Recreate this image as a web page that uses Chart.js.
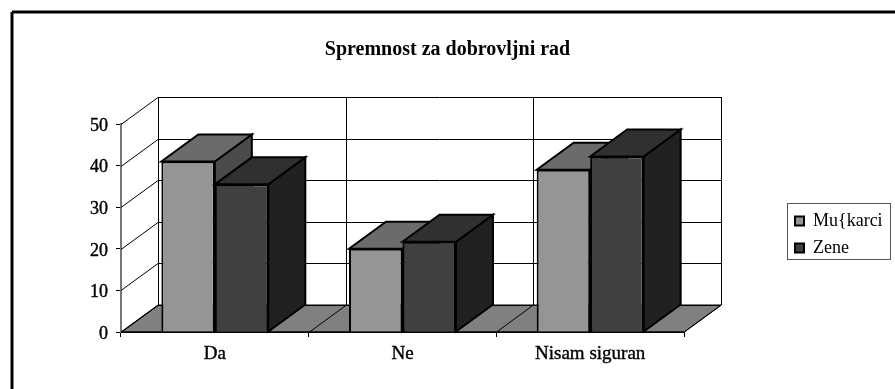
<!DOCTYPE html>
<html>
<head>
<meta charset="utf-8">
<title>Spremnost za dobrovljni rad</title>
<script src="https://cdn.jsdelivr.net/npm/chart.js@4"></script>
<style>
  html, body { margin: 0; padding: 0; background: #fff; }
  canvas { display: block; }
</style>
</head>
<body>
<canvas id="chart" width="895" height="389"></canvas>
<script>
const categories = ["Da", "Ne", "Nisam siguran"];
const muskarci = [41, 20, 39];
const zene = [35.5, 21.7, 42.2];
const seriesNames = ["Mu{karci", "Zene"];
const yMax = 50;
const yStep = 10;

// depth of the fake 3D box, in pixels
const DEPTH_X = 37;
const DEPTH_Y = 27;

function poly(ctx, pts, fill, stroke, width) {
  ctx.beginPath();
  pts.forEach((p, i) => (i ? ctx.lineTo(p[0], p[1]) : ctx.moveTo(p[0], p[1])));
  ctx.closePath();
  if (fill) {
    ctx.fillStyle = fill;
    ctx.fill();
  }
  if (stroke) {
    ctx.strokeStyle = stroke;
    ctx.lineWidth = width;
    ctx.stroke();
  }
}

function line(ctx, x1, y1, x2, y2) {
  ctx.beginPath();
  ctx.moveTo(x1, y1);
  ctx.lineTo(x2, y2);
  ctx.stroke();
}

const box3d = {
  id: "box3d",
  beforeDraw(chart) {
    // the outer frame only shows on the top and left
    const ctx = chart.ctx;
    ctx.save();
    ctx.strokeStyle = "#000";
    ctx.lineWidth = 3;
    line(ctx, 12, 389, 12, 12);
    line(ctx, 12, 12, 895, 12);
    ctx.restore();
  },
  afterLayout(chart) {
    // keep the legend away from the plot, as in the original
    const lg = chart.legend;
    lg.left = 786;
    lg.right = 786 + lg.width;
    lg.top = 234.5 - lg.height / 2;
    lg.bottom = lg.top + lg.height;
    // title is centred on the whole page, not on the plot
    chart.titleBlock.left = 0;
    chart.titleBlock.right = chart.width;
  },
  beforeDatasetsDraw(chart) {
    const { ctx, chartArea: a, scales } = chart;
    const catW = a.width / categories.length;
    ctx.save();

    // floor
    poly(ctx, [
      [a.left, a.bottom],
      [a.right, a.bottom],
      [a.right + DEPTH_X, a.bottom - DEPTH_Y],
      [a.left + DEPTH_X, a.bottom - DEPTH_Y]
    ], "#808080", "#000", 1);

    ctx.strokeStyle = "#000";
    ctx.lineWidth = 1;

    // value gridlines: side wall then back wall
    scales.y.ticks.forEach(t => {
      const y = Math.round(scales.y.getPixelForValue(t.value)) + 0.5;
      line(ctx, a.left, y, a.left + DEPTH_X, y - DEPTH_Y);
      line(ctx, a.left + DEPTH_X, y - DEPTH_Y, a.right + DEPTH_X, y - DEPTH_Y);
    });

    // category lines across the floor and up the back wall
    for (let i = 0; i <= categories.length; i++) {
      const x = Math.round(a.left + i * catW) + 0.5;
      line(ctx, x, a.bottom, x + DEPTH_X, a.bottom - DEPTH_Y);
      line(ctx, x + DEPTH_X, a.bottom - DEPTH_Y, x + DEPTH_X, a.top - DEPTH_Y);
    }

    // front edge of the floor
    line(ctx, a.left, a.bottom, a.right, a.bottom);
    ctx.restore();
  },
  // the left series has to go first so the right one covers its side face
  beforeDatasetDraw() {
    return false;
  },
  afterDatasetsDraw(chart) {
    const { ctx } = chart;
    chart.data.datasets.forEach((ds, i) => {
      const meta = chart.getDatasetMeta(i);
      ctx.save();
      ctx.lineJoin = "miter";
      meta.data.forEach(bar => {
        const l = bar.x - bar.width / 2;
        const r = bar.x + bar.width / 2;
        const t = bar.y;
        const b = bar.base;
        poly(ctx, [
          [r, t], [r + DEPTH_X, t - DEPTH_Y], [r + DEPTH_X, b - DEPTH_Y], [r, b]
        ], ds.sideColor, "#000", 2);
        poly(ctx, [
          [l, t], [l + DEPTH_X, t - DEPTH_Y], [r + DEPTH_X, t - DEPTH_Y], [r, t]
        ], ds.topColor, "#000", 2);
      });
      ctx.restore();
      meta.controller.draw();
    });
  },
  afterDraw(chart) {
    const ctx = chart.ctx;
    ctx.save();
    ctx.strokeStyle = "#555";
    ctx.lineWidth = 1;
    ctx.strokeRect(787.5, 203.5, 103, 56);
    ctx.restore();
  }
};

new Chart(document.getElementById("chart"), {
  type: "bar",
  data: {
    labels: categories,
    datasets: [
      {
        label: seriesNames[0],
        data: muskarci,
        backgroundColor: "#959595",
        topColor: "#6b6b6b",
        sideColor: "#4b4b4b",
        borderColor: "#000",
        borderWidth: 2
      },
      {
        label: seriesNames[1],
        data: zene,
        backgroundColor: "#404040",
        topColor: "#303030",
        sideColor: "#212121",
        borderColor: "#000",
        borderWidth: 2
      }
    ]
  },
  options: {
    responsive: false,
    animation: false,
    categoryPercentage: 0.57,
    barPercentage: 1,
    layout: { padding: { left: 0, right: 108, top: 0, bottom: 0 } },
    plugins: {
      title: {
        display: true,
        text: "Spremnost za dobrovljni rad",
        color: "#000",
        font: { family: "Liberation Serif", size: 20, weight: "bold", lineHeight: 1.2 },
        padding: { top: 38, bottom: 62 }
      },
      legend: {
        position: "right",
        maxWidth: 103,
        labels: {
          color: "#000",
          boxWidth: 9,
          boxHeight: 9,
          padding: 9,
          font: { family: "Liberation Serif", size: 18 }
        }
      },
      tooltip: { enabled: false }
    },
    scales: {
      x: {
        afterFit: s => { s.height = 57; },
        border: { color: "#000", width: 1 },
        grid: { drawOnChartArea: false, tickLength: 5, tickColor: "#000" },
        ticks: {
          color: "#000",
          padding: 6,
          maxRotation: 0,
          textStrokeColor: "#000",
          textStrokeWidth: 0.4,
          font: { family: "Liberation Serif", size: 19 }
        }
      },
      y: {
        min: 0,
        max: yMax,
        afterFit: s => { s.width = 121; },
        border: { color: "#777", width: 2 },
        grid: { drawOnChartArea: false, tickLength: 5, tickColor: "#000" },
        ticks: {
          stepSize: yStep,
          color: "#000",
          padding: 8,
          labelOffset: 2,
          textStrokeColor: "#000",
          textStrokeWidth: 0.4,
          font: { family: "Liberation Serif", size: 18 }
        }
      }
    }
  },
  plugins: [box3d]
});
</script>
</body>
</html>
